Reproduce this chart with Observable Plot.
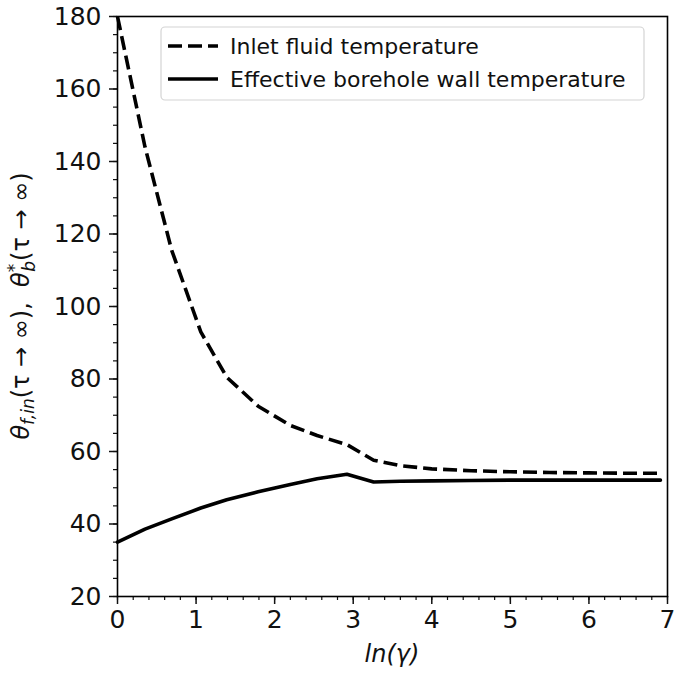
<!DOCTYPE html>
<html><head><meta charset="utf-8">
<script src="https://cdn.jsdelivr.net/npm/d3@7"></script>
<script src="https://cdn.jsdelivr.net/npm/@observablehq/plot@0.6"></script>
<style>
body{margin:0;background:#fff}
#chart svg{font-family:"DejaVu Sans",sans-serif;overflow:visible}
</style>
</head><body><div id="chart"></div>
<script>
// ln(gamma) sample positions
const lnGamma = [0, 0.35, 0.69, 1.06, 1.39, 1.79, 2.2, 2.54, 2.92, 3.26, 3.6, 4.0, 4.5, 5.0, 5.5, 6.0, 6.5, 6.91];
// Inlet fluid temperature theta_f,in (tau -> inf)
const inletTemp = [180, 144, 115.5, 93, 80.5, 72.5, 67.2, 64.4, 61.9, 57.6, 56.1, 55.2, 54.7, 54.4, 54.2, 54.1, 54.0, 54.0];
// Effective borehole wall temperature theta*_b (tau -> inf)
const wallTemp = [35, 38.6, 41.4, 44.4, 46.7, 48.9, 50.9, 52.5, 53.7, 51.6, 51.8, 51.9, 52.0, 52.1, 52.1, 52.1, 52.1, 52.1];
const seriesNames = ["Inlet fluid temperature", "Effective borehole wall temperature"];
const xTicks = [0, 1, 2, 3, 4, 5, 6, 7];
const yTicks = [20, 40, 60, 80, 100, 120, 140, 160, 180];

const inletData = lnGamma.map((x, i) => ({x, y: inletTemp[i]}));
const wallData = lnGamma.map((x, i) => ({x, y: wallTemp[i]}));

const W = 675, H = 679;
const mL = 117, mR = 8, mT = 16, mB = 83;

const chart = Plot.plot({
  width: W, height: H,
  marginLeft: mL, marginRight: mR, marginTop: mT, marginBottom: mB,
  style: {fontFamily: "DejaVu Sans", fontSize: "25px", color: "#111"},
  x: {domain: [0, 7]},
  y: {domain: [20, 180]},
  marks: [
    Plot.axisX({ticks: d3.range(0, 7.0001, 0.2), tickSize: 4, tickFormat: () => "", strokeWidth: 1.2, label: null}),
    Plot.axisY({ticks: d3.range(20, 180.0001, 5), tickSize: 4, tickFormat: () => "", strokeWidth: 1.2, label: null}),
    Plot.axisX({ticks: xTicks, tickSize: 8, tickPadding: 6, tickFormat: d3.format("d"), strokeWidth: 1.5, fontSize: 25, label: null}),
    Plot.axisY({ticks: yTicks, tickSize: 8, tickPadding: 8, tickFormat: d3.format("d"), strokeWidth: 1.5, fontSize: 25, label: null}),
    Plot.line(inletData, {x: "x", y: "y", stroke: "#000", strokeWidth: 3.6, strokeDasharray: "14,6", strokeLinejoin: "miter", strokeLinecap: "butt"}),
    Plot.line(wallData, {x: "x", y: "y", stroke: "#000", strokeWidth: 3.6, strokeLinejoin: "miter"}),
    Plot.frame({stroke: "#000", strokeWidth: 1.6})
  ]
});
document.getElementById("chart").appendChild(chart);

const svg = d3.select(chart);
// Legend
const lg = svg.append("g").attr("text-anchor", "start");
lg.append("rect").attr("x", 161).attr("y", 27).attr("width", 483).attr("height", 73)
  .attr("rx", 4).attr("fill", "#fff").attr("fill-opacity", 0.85).attr("stroke", "#d4d4d4").attr("stroke-width", 1.2);
const rows = [{y: 46, dash: "14,6"}, {y: 79, dash: null}];
rows.forEach((r, i) => {
  const l = lg.append("line").attr("x1", 168).attr("x2", 218).attr("y1", r.y).attr("y2", r.y)
    .attr("stroke", "#000").attr("stroke-width", 3.6);
  if (r.dash) l.attr("stroke-dasharray", r.dash);
  lg.append("text").attr("x", 230).attr("y", r.y).attr("dy", "0.35em").attr("text-anchor", "start")
    .attr("font-size", 22).attr("fill", "#111").text(seriesNames[i]);
});

// X label
svg.append("text").attr("x", (mL + W - mR) / 2).attr("y", 662).attr("text-anchor", "middle")
  .attr("font-size", 24).attr("font-style", "italic").attr("fill", "#111")
  .text("ln(γ)");

// Y label with sub/superscripts
const yl = svg.append("text").attr("transform", `translate(29,306) rotate(-90)`)
  .attr("text-anchor", "middle").attr("font-size", 24).attr("fill", "#111");
yl.append("tspan").attr("font-style", "italic").text("θ");
yl.append("tspan").attr("font-style", "italic").attr("font-size", 17).attr("dy", 5).text("f,in");
yl.append("tspan").attr("dy", -5).text("(τ → ∞),  ");
yl.append("tspan").attr("font-style", "italic").text("θ");
yl.append("tspan").attr("font-size", 17).attr("dy", -9).text("*");
yl.append("tspan").attr("font-style", "italic").attr("font-size", 17).attr("dx", -8).attr("dy", 15).text("b");
yl.append("tspan").attr("dy", -6).text("(τ → ∞)");
</script>
</body></html>
